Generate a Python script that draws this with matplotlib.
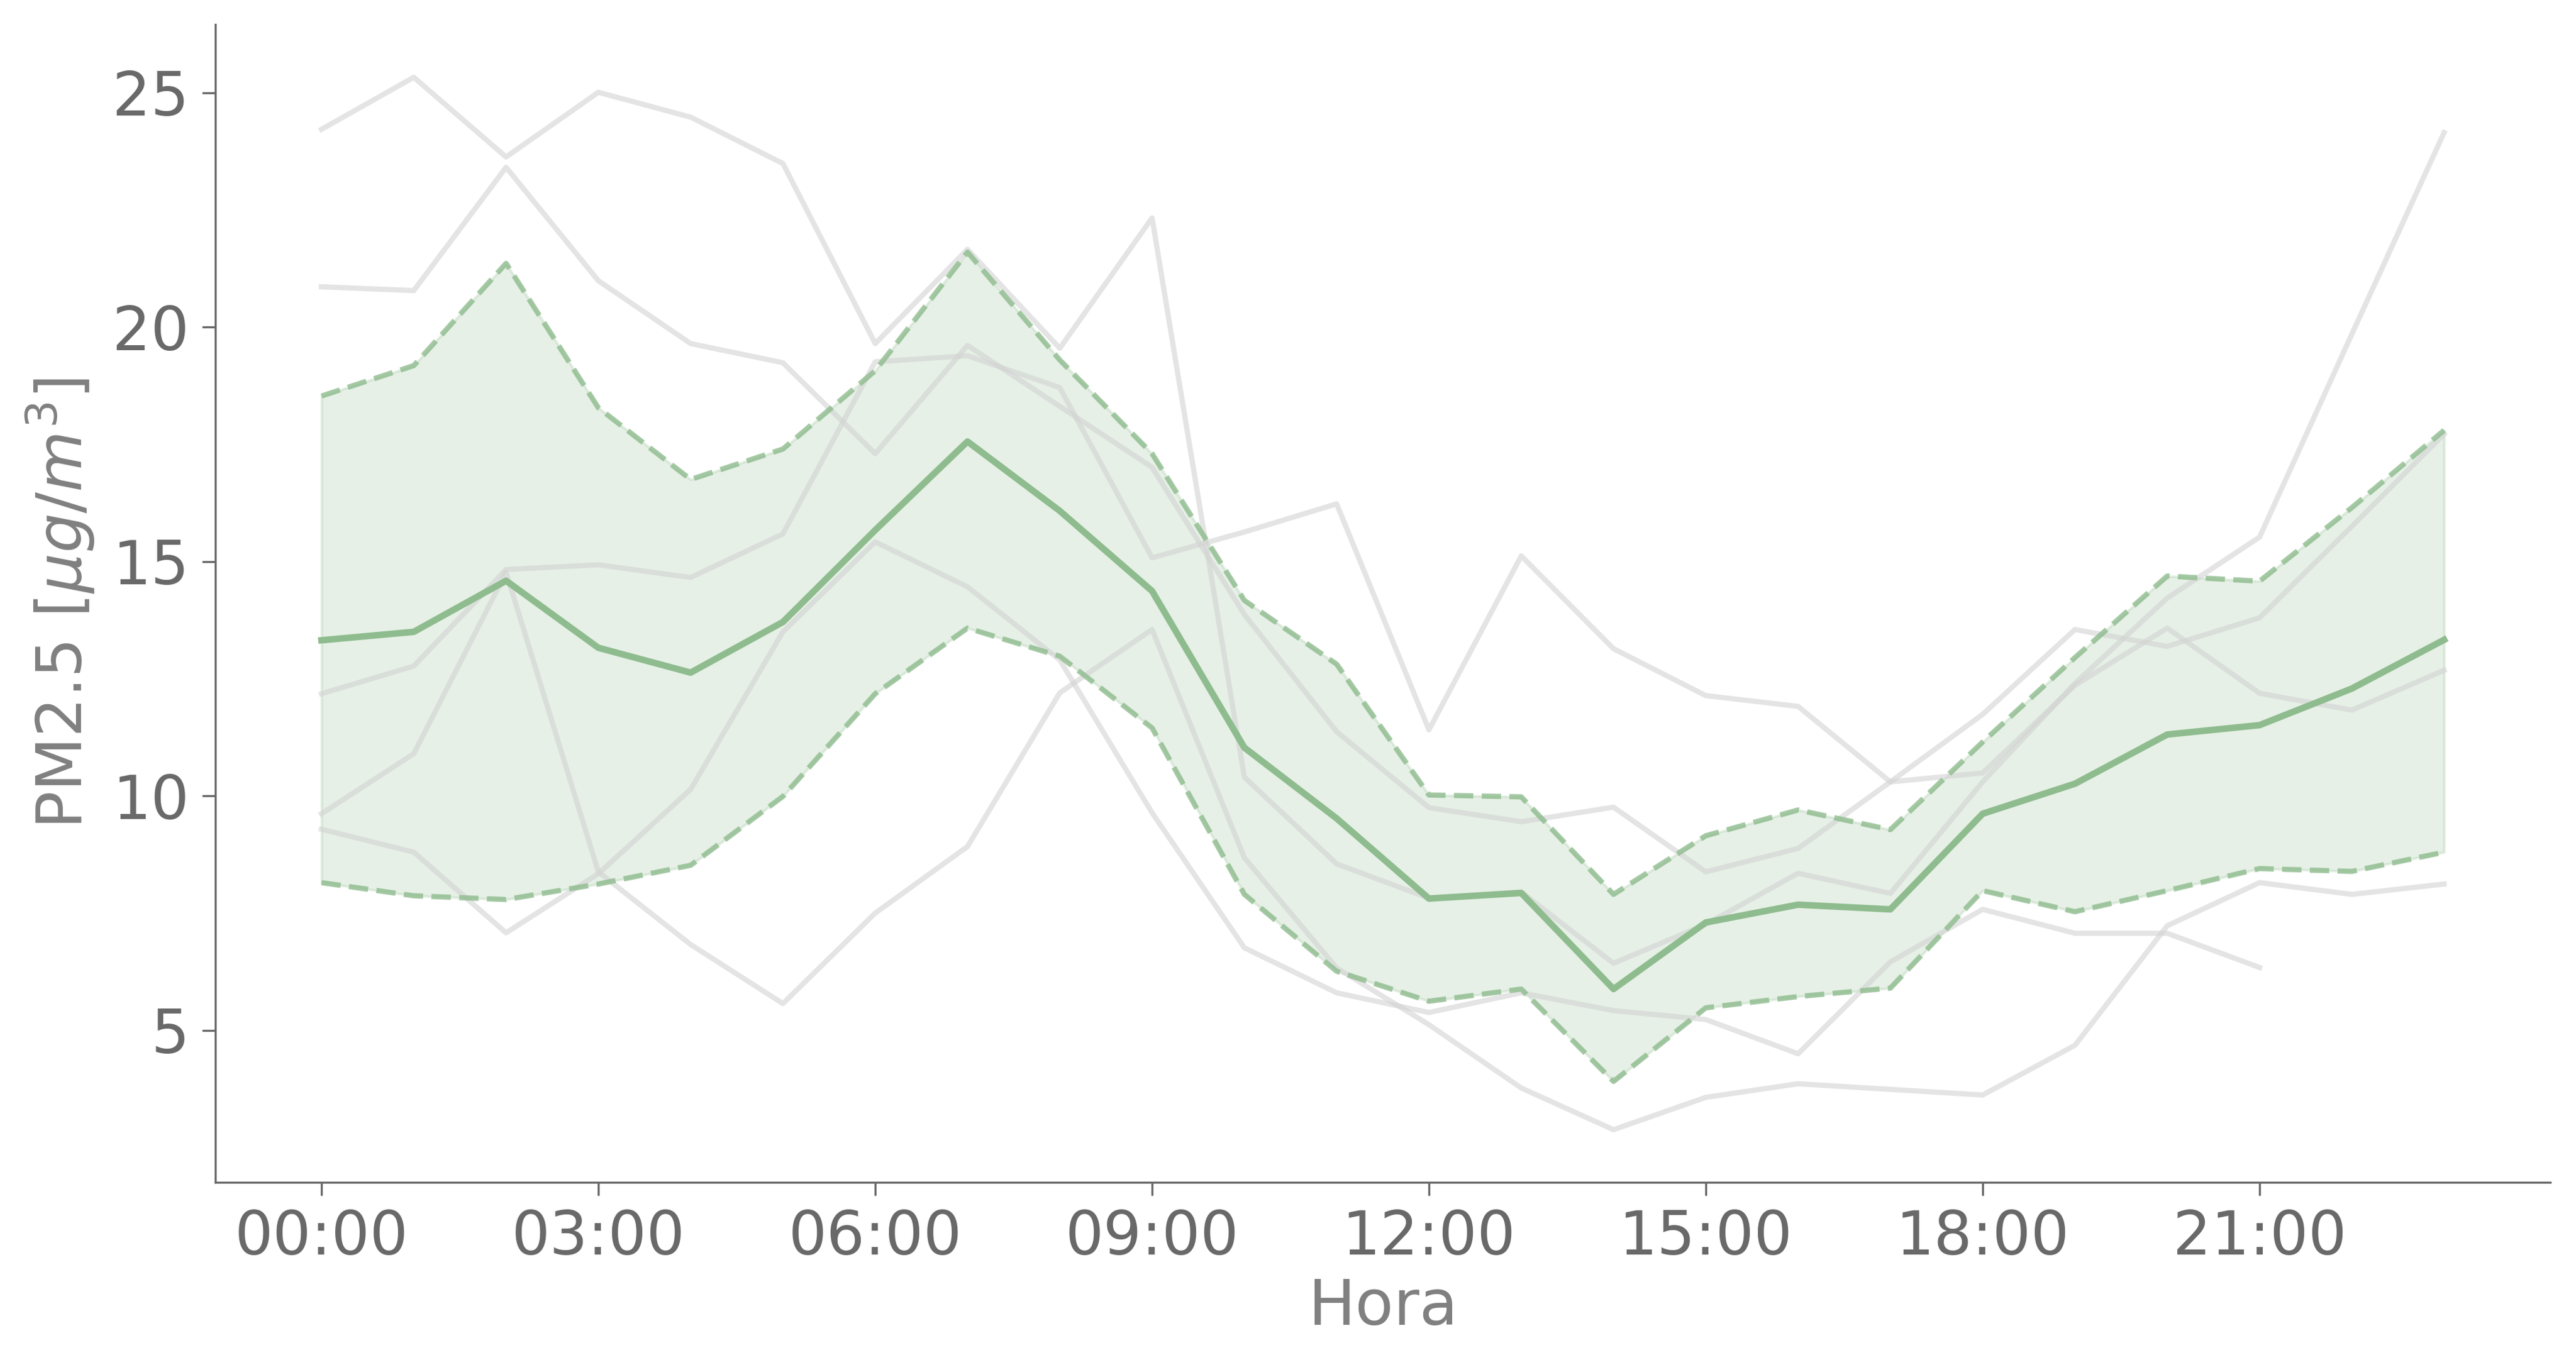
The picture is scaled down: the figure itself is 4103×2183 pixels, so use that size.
import matplotlib
matplotlib.use('Agg')
import matplotlib.pyplot as plt
import numpy as np

horas = list(range(24))
etiquetas = ['00:00', '03:00', '06:00', '09:00', '12:00', '15:00', '18:00', '21:00']

# curvas grises (una por dia)
dia_1 = [24.22, 25.33, 23.63, 25.01, 24.48, 23.49, 19.65, 21.66, 19.55, 22.33, 10.40, 8.55,
         7.82, 7.95, 6.43, 7.26, 8.35, 7.92, 10.30, 12.40, 14.22, 15.52, 19.85, 24.15]
dia_2 = [20.86, 20.78, 23.41, 20.99, 19.65, 19.24, 17.30, 19.61, 18.31, 17.01, 13.87, 11.37,
         9.75, 9.45, 9.76, 8.38, 8.88, 10.30, 11.74, 13.55, 13.19, 13.80, 15.75, 17.72]
dia_3 = [12.18, 12.77, 14.83, 14.93, 14.66, 15.59, 19.26, 19.39, 18.71, 15.08, 15.63, 16.23,
         11.41, 15.12, 13.14, 12.14, 11.91, 10.30, 10.49, 12.36, 13.58, 12.19, 11.83, 12.68]
dia_4 = [9.29, 8.80, 7.08, 8.34, 10.14, 13.50, 15.42, 14.46, 12.90, 9.64, 6.76, 5.80,
         5.38, 5.80, 5.42, 5.23, 4.50, 6.46, 7.58, 7.07, 7.07, 6.34, np.nan, np.nan]
dia_5 = [9.62, 10.90, 14.77, 8.38, 6.83, 5.57, 7.50, 8.92, 12.20, 13.55, 8.68, 6.33,
         5.12, 3.77, 2.88, 3.57, 3.86, 3.74, 3.62, 4.68, 7.23, 8.15, 7.90, 8.12]

# media y banda (media +- desviacion)
media = [13.32, 13.50, 14.59, 13.16, 12.63, 13.71, 15.67, 17.56, 16.08, 14.37, 11.03, 9.52,
         7.81, 7.93, 5.88, 7.30, 7.68, 7.58, 9.62, 10.26, 11.31, 11.51, 12.29, 13.33]
superior = [18.53, 19.18, 21.36, 18.28, 16.75, 17.40, 19.07, 21.60, 19.30, 17.30, 14.17, 12.81,
            10.02, 9.98, 7.90, 9.15, 9.70, 9.28, 11.15, 12.95, 14.69, 14.58, 16.15, 17.80]
inferior = [8.15, 7.87, 7.79, 8.12, 8.52, 9.99, 12.18, 13.58, 12.98, 11.45, 7.90, 6.26,
            5.62, 5.88, 3.91, 5.48, 5.72, 5.90, 7.98, 7.53, 7.98, 8.45, 8.39, 8.80]

verde = '#8fbc8f'
gris = 'dimgray'

fig = plt.figure(figsize=(4103 / 300, 2183 / 300), dpi=300)
ax = fig.add_axes([0.0836, 0.137, 0.9064, 0.845])

for dia in [dia_1, dia_2, dia_3, dia_4, dia_5]:
    ax.plot(horas, dia, color='lightgray', alpha=0.6, linewidth=2)

ax.fill_between(horas, inferior, superior, color=verde, alpha=0.22)
ax.plot(horas, superior, color=verde, alpha=0.8, linewidth=2, linestyle='--')
ax.plot(horas, inferior, color=verde, alpha=0.8, linewidth=2, linestyle='--')
ax.plot(horas, media, color=verde, linewidth=2.5)

ax.set_xticks(range(0, 24, 3))
ax.set_xticklabels(etiquetas)
ax.set_yticks([5, 10, 15, 20, 25])

ax.set_xlabel('Hora', fontsize=24, color='gray', labelpad=4)
ax.set_ylabel(r'PM2.5 [$\mu g/m^3$]', fontsize=24, color='gray', labelpad=6)
ax.tick_params(labelsize=23, colors=gris, labelcolor=gris, length=5, pad=5)

ax.spines['top'].set_visible(False)
ax.spines['right'].set_visible(False)
ax.spines['left'].set_color(gris)
ax.spines['bottom'].set_color(gris)

plt.savefig('out.png', dpi=300)
